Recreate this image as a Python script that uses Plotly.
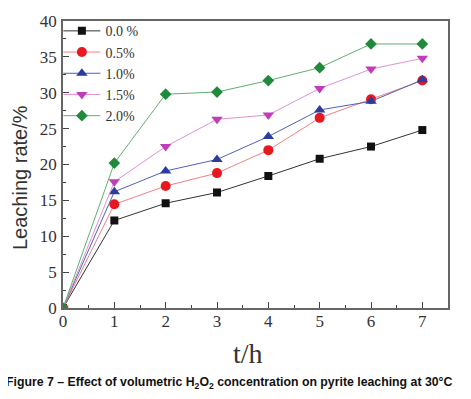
import plotly.graph_objects as go

t = [0, 1, 2, 3, 4, 5, 6, 7]
names = ["0.0 %", "0.5%", "1.0%", "1.5%", "2.0%"]
s00 = [0, 12.2, 14.6, 16.1, 18.4, 20.8, 22.5, 24.8]
s05 = [0, 14.45, 17.0, 18.8, 22.0, 26.5, 29.1, 31.7]
s10 = [0, 16.2, 19.1, 20.7, 23.9, 27.6, 28.8, 31.8]
s15 = [0, 17.6, 22.5, 26.3, 26.9, 30.6, 33.3, 34.8]
s20 = [0, 20.2, 29.8, 30.1, 31.7, 33.5, 36.8, 36.8]
series = [s00, s05, s10, s15, s20]
xticks = [0, 1, 2, 3, 4, 5, 6, 7]
yticks = [0, 5, 10, 15, 20, 25, 30, 35, 40]

marker_colors = ["#111111", "#e8181f", "#2a3d9e", "#c03cb8", "#1f8a3c"]
line_colors = ["#333333", "#f08080", "#5060b8", "#e090d8", "#60b070"]
symbols = ["square", "circle", "triangle-up", "triangle-down", "diamond"]
sizes = [8, 10, 10, 10, 9]

serif = "Liberation Serif, Times New Roman, serif"
sans = "Liberation Sans, Arial, sans-serif"

fig = go.Figure()
for n, y, mc, lc, sym, sz in zip(names, series, marker_colors, line_colors, symbols, sizes):
    fig.add_trace(go.Scatter(
        x=t, y=y, name=n, mode="lines+markers",
        line=dict(color=lc, width=1),
        marker=dict(color=mc, symbol=sym, size=sz, line=dict(width=0)),
    ))

axis_common = dict(
    showline=True, linecolor="#666666", linewidth=1.5, mirror=True,
    ticks="inside", ticklen=6, tickcolor="#444444", showgrid=False, zeroline=False,
    tickfont=dict(family=serif, size=17, color="#333333"), automargin=False,
)

fig.update_xaxes(range=[0, 7.5], tickvals=xticks, ticklabelstandoff=-3,
                 minor=dict(ticks="inside", ticklen=3, dtick=0.5, tick0=0, tickcolor="#444444"),
                 **axis_common)
fig.update_yaxes(range=[0, 40], tickvals=yticks, ticklabelstandoff=1,
                 minor=dict(ticks="inside", ticklen=3, dtick=2.5, tick0=0, tickcolor="#444444"),
                 **axis_common)

fig.update_layout(
    width=463, height=391,
    margin=dict(l=55, r=23, t=13, b=91, autoexpand=False),
    paper_bgcolor="white", plot_bgcolor="white",
    showlegend=True,
    legend=dict(x=-0.012, y=1.02, xanchor="left", yanchor="top", bgcolor="rgba(0,0,0,0)",
                font=dict(family=serif, size=14, color="#333333"),
                tracegroupgap=0, itemwidth=37),
    annotations=[
        dict(text="t/h", xref="paper", yref="paper", x=0.48, y=-0.157,
             xanchor="center", yanchor="middle", showarrow=False,
             font=dict(family=serif, size=28, color="#333333")),
        dict(text="Leaching rate/%", xref="paper", yref="paper", x=-0.112, y=0.456,
             xanchor="center", yanchor="middle", textangle=-90, showarrow=False,
             font=dict(family=sans, size=20, color="#333333")),
        dict(text="<b>Figure 7 – Effect of volumetric H<sub>2</sub>O<sub>2</sub> concentration on pyrite leaching at 30°C</b>",
             xref="paper", yref="paper", x=0.432, y=-0.261, xanchor="center", yanchor="middle",
             showarrow=False, font=dict(family=sans, size=12.3, color="#111111")),
    ],
)

fig.write_html("out.html")
